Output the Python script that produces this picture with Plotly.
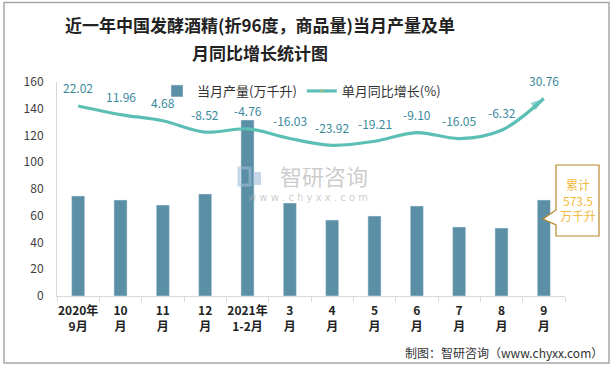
import plotly.graph_objects as go

categories = ["2020年<br>9月", "10<br>月", "11<br>月", "12<br>月", "2021年<br>1-2月", "3<br>月",
              "4<br>月", "5<br>月", "6<br>月", "7<br>月", "8<br>月", "9<br>月"]
production = [74.8, 71.8, 68.0, 76.3, 131.6, 69.5, 56.8, 59.8, 67.3, 51.6, 50.8, 71.8]
growth = [22.02, 11.96, 4.68, -8.52, -4.76, -16.03, -23.92, -19.21, -9.10, -16.05, -6.32, 30.76]
growth_labels = ["22.02", "11.96", "4.68", "-8.52", "-4.76", "-16.03", "-23.92", "-19.21",
                 "-9.10", "-16.05", "-6.32", "30.76"]
cumulative_text = "累计<br>573.5<br>万千升"

BAR = "#5B8FA6"
LINE = "#5CBFB5"
LABEL = "#3A8A9E"
FONT = "Noto Sans CJK SC"

n = len(categories)
symbols = ["circle"] + ["circle"] * (n - 2) + ["arrow"]
sizes = [12] + [0] * (n - 2) + [14]
mcolors = ["#F5B622"] + [LINE] * (n - 1)

fig = go.Figure()
fig.add_trace(go.Bar(x=categories, y=production, name="当月产量(万千升)",
                     marker_color=BAR, width=0.31))
fig.add_trace(go.Scatter(x=categories, y=growth, name="单月同比增长(%)", yaxis="y2",
                         mode="lines+markers", line=dict(color=LINE, width=3.2, shape="spline", smoothing=1.0),
                         marker=dict(symbol=symbols, size=sizes, color=mcolors, angleref="previous",
                                     line=dict(width=0)),
                         cliponaxis=False))

for c, g, t in zip(categories, growth, growth_labels):
    fig.add_annotation(x=c, y=g, xref="x", yref="y2", text=t, showarrow=False,
                       yshift=18, font=dict(family=FONT, size=12, color=LABEL))

def px(x):
    return (x - 57) / 508

def py(y):
    return (296 - y) / 214

# callout box with pointer
path = "M {a},{b} L {c},{b} L {c},{d} L {a},{d} L {a},{e} L {f},{g} L {a},{h} Z".format(
    a=px(556), b=py(165), c=px(599), d=py(236), e=py(225), f=px(543), g=py(219), h=py(210))
fig.add_shape(type="path", path=path, xref="paper", yref="paper",
              fillcolor="white", line=dict(color="#B8892B", width=1.2), layer="above")
fig.add_annotation(x=px(578), y=py(200), xref="paper", yref="paper", text=cumulative_text,
                   showarrow=False, xanchor="center", yanchor="middle",
                   font=dict(family=FONT, size=12, color="#F2B83A"))

# outer border
fig.add_shape(type="rect", xref="paper", yref="paper", x0=px(4), x1=px(609), y0=py(363), y1=py(2.5),
              line=dict(color="#A6A6A6", width=1.5), layer="above")

# title
fig.add_annotation(x=px(260), y=py(25), xref="paper", yref="paper", text="近一年中国发酵酒精(折96度，商品量)当月产量及单",
                   showarrow=False, xanchor="center", yanchor="middle",
                   font=dict(family=FONT, size=17, color="#222222", weight="bold"))
fig.add_annotation(x=px(260), y=py(52), xref="paper", yref="paper", text="月同比增长统计图",
                   showarrow=False, xanchor="center", yanchor="middle",
                   font=dict(family=FONT, size=17, color="#222222", weight="bold"))

# watermark
fig.add_annotation(x=px(324), y=py(175), xref="paper", yref="paper", text="智研咨询", showarrow=False,
                   xanchor="center", yanchor="middle",
                   font=dict(family=FONT, size=22, color="rgba(170,170,170,0.6)"))
fig.add_annotation(x=px(308), y=py(197), xref="paper", yref="paper", text="w w w . c h y x x . c o m",
                   showarrow=False, xanchor="center", yanchor="middle",
                   font=dict(family="DejaVu Sans", size=10, color="rgba(170,170,170,0.6)"))
fig.add_shape(type="rect", xref="paper", yref="paper", x0=px(239), x1=px(250), y0=py(185), y1=py(168),
              line=dict(color="rgba(160,190,215,0.6)", width=3), fillcolor="rgba(0,0,0,0)")
fig.add_shape(type="rect", xref="paper", yref="paper", x0=px(253), x1=px(261), y0=py(185), y1=py(172),
              line=dict(width=0), fillcolor="rgba(160,190,215,0.6)")

# source
fig.add_annotation(x=px(605), y=py(353), xref="paper", yref="paper", text="制图：智研咨询（www.chyxx.com）",
                   showarrow=False, xanchor="right", yanchor="middle",
                   font=dict(family=FONT, size=12, color="#333333"))

fig.update_layout(
    width=616, height=368,
    margin=dict(l=57, r=51, t=82, b=72, autoexpand=False),
    paper_bgcolor="white", plot_bgcolor="white",
    font=dict(family=FONT, size=12, color="#404040"),
    showlegend=True,
    legend=dict(orientation="h", x=px(157), y=py(76), xanchor="left", yanchor="top",
                bgcolor="rgba(0,0,0,0)", font=dict(size=13, color="#333333"),
                itemwidth=30, traceorder="normal"),
    bargap=0.69,
    xaxis=dict(type="category", range=[-0.5, n - 0.5], autorange=False,
               showline=True, linecolor="#D9D9D9", linewidth=1,
               ticks="outside", tickson="boundaries", ticklen=5, tickcolor="#D9D9D9",
               tickangle=0, automargin=False, ticklabelstandoff=4,
               tickfont=dict(family=FONT, size=12, color="#222222", weight="bold"),
               showgrid=False),
    yaxis=dict(range=[0, 160], dtick=20, showline=True, linecolor="#D9D9D9", linewidth=1,
               showgrid=False, zeroline=False, ticks="", ticklabelstandoff=10, automargin=False,
               tickfont=dict(size=12, color="#404040")),
    yaxis2=dict(range=[-200, 50], overlaying="y", side="right", visible=False, showgrid=False),
)

fig.write_html("out.html", config={"displayModeBar": False},
               post_script="document.body.style.margin='0';document.body.style.overflow='hidden';")
